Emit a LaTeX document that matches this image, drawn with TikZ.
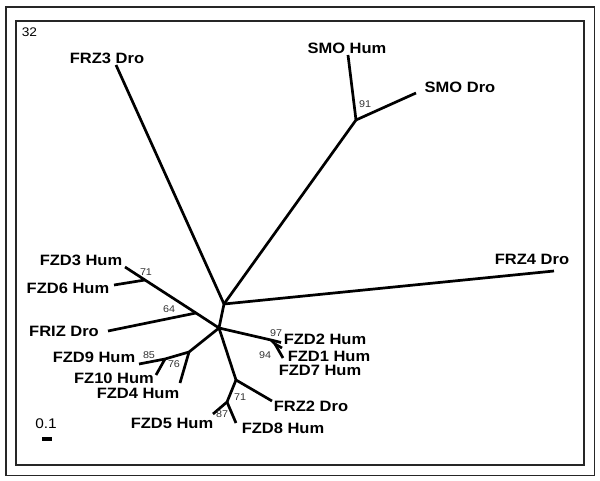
\documentclass[tikz,border=0pt]{standalone}
\usepackage{fontspec}
\setmainfont{Liberation Sans}[FakeStretch=1.1]
\begin{document}
\begin{tikzpicture}[x=1pt,y=-1pt,
  branch/.style={line width=2.7pt,line cap=butt,line join=round},
  leaf/.style={font=\fontsize{15}{15}\selectfont\bfseries,inner sep=0pt},
  boot/.style={font=\fontsize{9.8}{9.8}\selectfont,text=black!80,inner sep=0pt},
  frame/.style={draw=black!85,line width=1.1pt}]
\useasboundingbox (0,0) rectangle (600,481);
\draw[frame] (6,7) rectangle (594.5,475.5);
\draw[frame] (16,21) rectangle (584,465);
\node[font=\fontsize{12.5}{12.5}\selectfont,inner sep=0pt] (n32) at (29.5,32) {32};
% tree coordinates
\coordinate (A) at (219,328);
\coordinate (B) at (224,304);
\coordinate (tFRZ3) at (116,65);
\coordinate (S) at (356,120);
\coordinate (tSMOH) at (348,55);
\coordinate (tSMOD) at (416,93);
\coordinate (tFRZ4) at (554,271);
\coordinate (N64) at (196,313);
\coordinate (N71) at (145,280);
\coordinate (tFZD3) at (125,267);
\coordinate (tFZD6) at (114,285);
\coordinate (tFRIZ) at (108,331);
\coordinate (N76) at (189,352);
\coordinate (N85) at (165,359);
\coordinate (tFZD9) at (139,364);
\coordinate (tFZ10) at (156,375);
\coordinate (tFZD4) at (180,383);
\coordinate (J1) at (271,340);
\coordinate (J2) at (275,344);
\coordinate (tFZD2) at (281,342.5);
\coordinate (tFZD1) at (282,348);
\coordinate (tFZD7) at (283,358);
\coordinate (N71b) at (236,380);
\coordinate (tFRZ2) at (272,401);
\coordinate (N87) at (227,402);
\coordinate (tFZD5) at (213,414);
\coordinate (tFZD8) at (236,423);
% branches
\draw[branch] (tFRZ3) -- (B);
\draw[branch] (B) -- (S);
\draw[branch] (S) -- (tSMOH);
\draw[branch] (S) -- (tSMOD);
\draw[branch] (B) -- (tFRZ4);
\draw[branch] (B) -- (A);
\draw[branch] (A) -- (N64) -- (N71) -- (tFZD3);
\draw[branch] (N71) -- (tFZD6);
\draw[branch] (N64) -- (tFRIZ);
\draw[branch] (A) -- (N76) -- (N85) -- (tFZD9);
\draw[branch] (N85) -- (tFZ10);
\draw[branch] (N76) -- (tFZD4);
\draw[branch] (A) -- (J1) -- (tFZD2);
\draw[branch] (J1) -- (J2) -- (tFZD1);
\draw[branch] (J2) -- (tFZD7);
\draw[branch] (A) -- (N71b) -- (tFRZ2);
\draw[branch] (N71b) -- (N87) -- (tFZD5);
\draw[branch] (N87) -- (tFZD8);
% leaf labels
\node[leaf] (lFRZ3) at (107,58) {FRZ3 Dro};
\node[leaf] (lSMOH) at (347,48) {SMO Hum};
\node[leaf] (lSMOD) at (460,87) {SMO Dro};
\node[leaf] (lFRZ4) at (532,259) {FRZ4 Dro};
\node[leaf] (lFZD3) at (81,260) {FZD3 Hum};
\node[leaf] (lFZD6) at (68,288) {FZD6 Hum};
\node[leaf] (lFRIZ) at (64,331) {FRIZ Dro};
\node[leaf] (lFZD9) at (94,357) {FZD9 Hum};
\node[leaf] (lFZ10) at (114,378) {FZ10 Hum};
\node[leaf] (lFZD4) at (138,393) {FZD4 Hum};
\node[leaf] (lFZD2) at (325,339) {FZD2 Hum};
\node[leaf] (lFZD1) at (329,356) {FZD1 Hum};
\node[leaf] (lFZD7) at (320,370) {FZD7 Hum};
\node[leaf] (lFRZ2) at (311,406) {FRZ2 Dro};
\node[leaf] (lFZD5) at (172,423) {FZD5 Hum};
\node[leaf] (lFZD8) at (283,428) {FZD8 Hum};
% bootstrap values
\node[boot] (b91) at (365,104) {91};
\node[boot] (b71a) at (146,272) {71};
\node[boot] (b64) at (169,309) {64};
\node[boot] (b85) at (149,355) {85};
\node[boot] (b76) at (174,364) {76};
\node[boot] (b97) at (276,333) {97};
\node[boot] (b94) at (265,355) {94};
\node[boot] (b71b) at (240,397) {71};
\node[boot] (b87) at (222,414) {87};
% scale
\node[font=\fontsize{14}{14}\selectfont,inner sep=0pt] (scl) at (46,424) {0.1};
\fill (41.5,437) rectangle (51.5,441);
\end{tikzpicture}
\end{document}
